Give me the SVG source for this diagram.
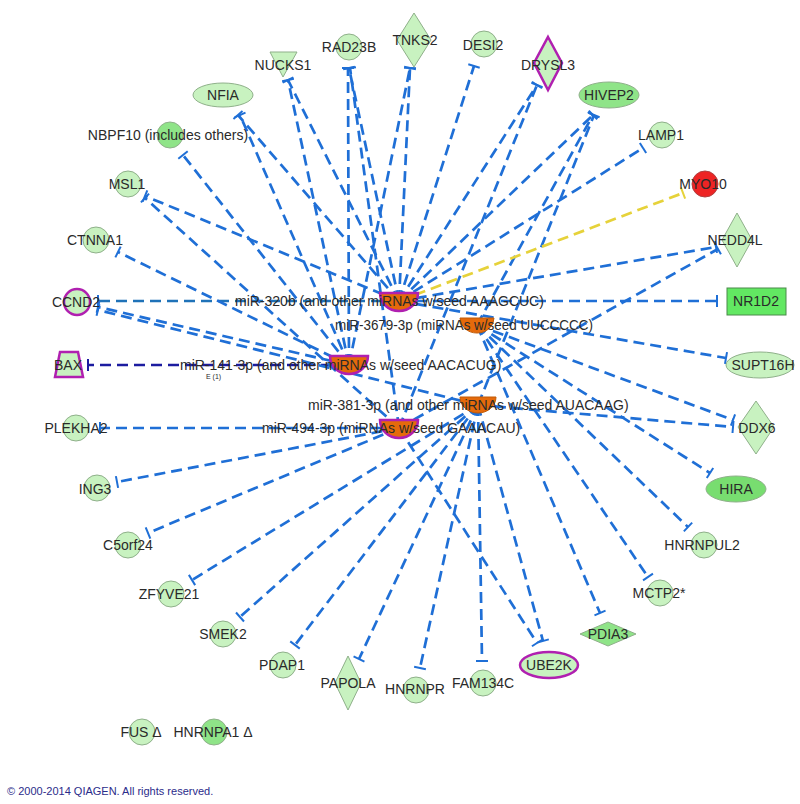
<svg xmlns="http://www.w3.org/2000/svg" width="800" height="804" viewBox="0 0 800 804">
<style>
text{font-family:"Liberation Sans",Arial,sans-serif;font-size:14px;fill:#2a2a2a;text-anchor:middle}
.lbl{text-anchor:start}
.e{fill:none;stroke:#1f6fd6;stroke-width:2.7;stroke-dasharray:11 6;marker-end:url(#tb)}
.en{stroke:#1c1ca0;marker-end:url(#tbn)}
.ey{stroke:#e6d23a;marker-end:url(#tby)}
.n{fill:#c8f2c0;stroke:#8fb08a;stroke-width:1}
.m{fill:#8fe488}
.mg{stroke:#b020b0;stroke-width:2.5}
.hub{fill:#e56a0b;stroke:#c05a08;stroke-width:1}
.hubm{fill:#e56a0b;stroke:#b020b0;stroke-width:2.5}
</style>
<defs>
<marker id="tb" viewBox="-7 -7 14 14" refX="0" refY="0" markerWidth="14" markerHeight="14" markerUnits="userSpaceOnUse" orient="auto"><path d="M0,-6V6" stroke="#1f6fd6" stroke-width="2"/></marker>
<marker id="tbn" viewBox="-7 -7 14 14" refX="0" refY="0" markerWidth="14" markerHeight="14" markerUnits="userSpaceOnUse" orient="auto"><path d="M0,-6V6" stroke="#1c1ca0" stroke-width="2"/></marker>
<marker id="tby" viewBox="-7 -7 14 14" refX="0" refY="0" markerWidth="14" markerHeight="14" markerUnits="userSpaceOnUse" orient="auto"><path d="M0,-6V6" stroke="#e6d23a" stroke-width="2"/></marker>
</defs>
<rect width="800" height="804" fill="#fff"/>
<g id="edges">
<line class="e" x1="399" y1="301" x2="238" y2="115"/>
<line class="e" x1="349" y1="365" x2="240" y2="115"/>
<line class="e" x1="399" y1="301" x2="288" y2="80"/>
<line class="e" x1="349" y1="365" x2="288" y2="80"/>
<line class="e" x1="399" y1="301" x2="349" y2="68"/>
<line class="e" x1="349" y1="365" x2="348" y2="68"/>
<line class="e" x1="399" y1="428" x2="350" y2="68"/>
<line class="e" x1="399" y1="301" x2="410" y2="68"/>
<line class="e" x1="349" y1="365" x2="410" y2="68"/>
<line class="e" x1="399" y1="301" x2="474" y2="66"/>
<line class="e" x1="399" y1="301" x2="537" y2="85"/>
<line class="e" x1="399" y1="428" x2="537" y2="85"/>
<line class="e" x1="399" y1="301" x2="593" y2="115"/>
<line class="e" x1="477" y1="325" x2="593" y2="115"/>
<line class="e" x1="478" y1="405" x2="594" y2="115"/>
<line class="e" x1="399" y1="301" x2="643" y2="148"/>
<line class="e ey" x1="399" y1="301" x2="683" y2="193"/>
<line class="e" x1="399" y1="301" x2="716" y2="247"/>
<line class="e" x1="399" y1="428" x2="718" y2="249"/>
<line class="e" x1="399" y1="301" x2="717" y2="301"/>
<line class="e" x1="399" y1="301" x2="726" y2="358"/>
<line class="e" x1="477" y1="325" x2="733" y2="420"/>
<line class="e" x1="478" y1="405" x2="733" y2="427"/>
<line class="e" x1="477" y1="325" x2="710" y2="473"/>
<line class="e" x1="477" y1="325" x2="688" y2="527"/>
<line class="e" x1="477" y1="325" x2="648" y2="577"/>
<line class="e" x1="477" y1="325" x2="600" y2="613"/>
<line class="e" x1="399" y1="428" x2="537" y2="643"/>
<line class="e" x1="478" y1="405" x2="543" y2="641"/>
<line class="e" x1="478" y1="405" x2="482" y2="661"/>
<line class="e" x1="478" y1="405" x2="420" y2="668"/>
<line class="e" x1="478" y1="405" x2="359" y2="659"/>
<line class="e" x1="478" y1="405" x2="295" y2="645"/>
<line class="e" x1="478" y1="405" x2="240" y2="617"/>
<line class="e" x1="478" y1="405" x2="192" y2="580"/>
<line class="e" x1="399" y1="428" x2="148" y2="533"/>
<line class="e" x1="399" y1="428" x2="117" y2="482"/>
<line class="e" x1="399" y1="428" x2="100" y2="428"/>
<line class="e en" x1="349" y1="365" x2="88" y2="365"/>
<line class="e" style="stroke:#1f72b8" x1="399" y1="301" x2="98" y2="301"/>
<line class="e" x1="349" y1="365" x2="98" y2="307"/>
<line class="e" x1="478" y1="405" x2="98" y2="310"/>
<line class="e" x1="349" y1="365" x2="118" y2="252"/>
<line class="e" x1="399" y1="301" x2="145" y2="196"/>
<line class="e" x1="399" y1="428" x2="145" y2="198"/>
<line class="e" x1="349" y1="365" x2="183" y2="155"/>
</g>
<g id="hub-miR-320b"><path class="hubm" d="M380,293H418A19,18 0 0 1 380,293Z"/><text class="lbl" x="235" y="306">miR-320b (and other miRNAs w/seed AAAGCUC)</text></g>
<g id="hub-miR-3679-3p"><path class="hub" d="M460,318H494A17,15 0 0 1 460,318Z"/><text class="lbl" x="335" y="330" textLength="258" lengthAdjust="spacingAndGlyphs">miR-3679-3p (miRNAs w/seed UUCCCCC)</text></g>
<g id="hub-miR-141-3p"><path class="hubm" d="M330,356H368A19,18 0 0 1 330,356Z"/><text class="lbl" x="180" y="370">miR-141-3p (and other miRNAs w/seed AACACUG)</text><text class="lbl" x="206" y="379" style="font-size:7px">E (1)</text></g>
<g id="hub-miR-381-3p"><path class="hub" d="M460,397H496A18,16 0 0 1 460,397Z"/><text class="lbl" x="308" y="410">miR-381-3p (and other miRNAs w/seed AUACAAG)</text></g>
<g id="hub-miR-494-3p"><path class="hubm" d="M380,420H418A19,18 0 0 1 380,420Z"/><text class="lbl" x="262" y="433">miR-494-3p (miRNAs w/seed GAAACAU)</text></g>
<g id="NFIA"><ellipse class="n" cx="223" cy="95" rx="30" ry="12"/><text x="223" y="100">NFIA</text></g>
<g id="NUCKS1"><path class="n" d="M270,52H297L283,77Z"/><text x="283" y="70">NUCKS1</text></g>
<g id="RAD23B"><circle class="n" cx="349" cy="47" r="13"/><text x="349" y="52">RAD23B</text></g>
<g id="TNKS2"><path class="n" d="M414,13L431,40L414,67L397,40Z"/><text x="415" y="45">TNKS2</text></g>
<g id="DESI2"><circle class="n" cx="484" cy="44" r="13"/><text x="483" y="50">DESI2</text></g>
<g id="DRYSL3"><path class="n mg" d="M548,37L562,63L548,90L534,63Z"/><text x="548" y="70">DRYSL3</text></g>
<g id="HIVEP2"><ellipse class="n m" cx="609" cy="95" rx="30" ry="13"/><text x="609" y="100">HIVEP2</text></g>
<g id="LAMP1"><circle class="n" cx="662" cy="135" r="13"/><text x="661" y="140">LAMP1</text></g>
<g id="MYO10"><circle class="n" style="fill:#ee2424;stroke:#b04040" cx="705" cy="184" r="13"/><text x="703" y="189">MYO10</text></g>
<g id="NBPF10"><circle class="n m" cx="170" cy="135" r="13"/><text x="168" y="140">NBPF10 (includes others)</text></g>
<g id="MSL1"><circle class="n" cx="128" cy="184" r="13"/><text x="127" y="189">MSL1</text></g>
<g id="CTNNA1"><circle class="n" cx="96" cy="240" r="13"/><text x="95" y="245">CTNNA1</text></g>
<g id="CCND2"><circle class="n mg" cx="77" cy="302" r="13"/><text x="76" y="307">CCND2</text></g>
<g id="BAX"><path class="n mg" d="M60,352H78L83,377H55Z"/><text x="68" y="370">BAX</text></g>
<g id="PLEKHA2"><circle class="n" cx="76" cy="428" r="13"/><text x="76" y="433">PLEKHA2</text></g>
<g id="ING3"><circle class="n" cx="97" cy="488" r="13"/><text x="95" y="494">ING3</text></g>
<g id="C5orf24"><circle class="n" cx="128" cy="545" r="13"/><text x="128" y="550">C5orf24</text></g>
<g id="ZFYVE21"><circle class="n" cx="171" cy="594" r="13"/><text x="169" y="599">ZFYVE21</text></g>
<g id="SMEK2"><circle class="n" cx="223" cy="634" r="13"/><text x="223" y="639">SMEK2</text></g>
<g id="PDAP1"><circle class="n" cx="283" cy="665" r="13"/><text x="282" y="670">PDAP1</text></g>
<g id="PAPOLA"><path class="n" d="M348,656L361,683L348,710L335,683Z"/><text x="348" y="688">PAPOLA</text></g>
<g id="HNRNPR"><circle class="n" cx="416" cy="690" r="13"/><text x="415" y="694">HNRNPR</text></g>
<g id="FAM134C"><circle class="n" cx="483" cy="683" r="13"/><text x="483" y="688">FAM134C</text></g>
<g id="UBE2K"><ellipse class="n mg" cx="549" cy="665" rx="29" ry="13"/><text x="549" y="670">UBE2K</text></g>
<g id="PDIA3"><path class="n m" d="M580,634L608,622L636,634L608,646Z"/><text x="608" y="639">PDIA3</text></g>
<g id="MCTP2"><circle class="n" cx="660" cy="593" r="13"/><text x="659" y="598">MCTP2*</text></g>
<g id="HNRNPUL2"><circle class="n" cx="704" cy="545" r="13"/><text x="702" y="550">HNRNPUL2</text></g>
<g id="HIRA"><ellipse class="n" style="fill:#78dd70" cx="736" cy="489" rx="30" ry="13"/><text x="736" y="494">HIRA</text></g>
<g id="DDX6"><path class="n" d="M756,401L774,427L756,454L738,427Z"/><text x="757" y="433">DDX6</text></g>
<g id="SUPT16H"><ellipse class="n" cx="760" cy="365" rx="34" ry="13"/><text x="763" y="370">SUPT16H</text></g>
<g id="NR1D2"><rect class="n" style="fill:#62e862;stroke:#4a8a4a" x="727" y="288" width="59" height="27"/><text x="756" y="306">NR1D2</text></g>
<g id="NEDD4L"><path class="n" d="M737,213L752,240L737,267L722,240Z"/><text x="735" y="245">NEDD4L</text></g>
<g id="FUS"><circle class="n" cx="142" cy="732" r="13"/><text x="141" y="737">FUS Δ</text></g>
<g id="HNRNPA1"><circle class="n m" cx="214" cy="732" r="13"/><text x="213" y="737">HNRNPA1 Δ</text></g>
<text class="lbl" x="7" y="795" style="font-size:11px;fill:#2b2b8a">© 2000-2014 QIAGEN. All rights reserved.</text>
</svg>
